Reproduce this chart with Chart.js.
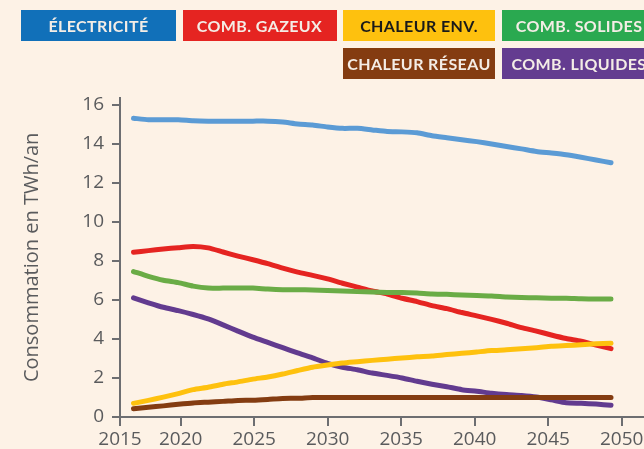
<!DOCTYPE html>
<html lang="fr">
<head>
<meta charset="utf-8">
<title>Consommation d'énergie</title>
<script src="https://cdn.jsdelivr.net/npm/chart.js@4.4.1/dist/chart.umd.min.js"></script>
<style>
  html, body { margin: 0; padding: 0; background: #fdf2e6; overflow: hidden; }
  #wrap { position: relative; width: 644px; height: 449px; }
  #legend {
    position: absolute; left: 21px; top: 10px;
    display: grid;
    grid-template-columns: 155px 154px 152px 155px;
    column-gap: 6.5px; row-gap: 7px;
  }
  .item {
    height: 31px; display: flex; align-items: center; justify-content: center;
    font: 700 16px Lato, sans-serif; letter-spacing: 0.4px; white-space: nowrap;
  }
</style>
</head>
<body>
<div id="wrap">
  <canvas id="chart" width="644" height="449"></canvas>
  <div id="legend"></div>
</div>
<script>
// données (TWh/an)
const YEARS = [2017, 2018, 2019, 2020, 2021, 2022, 2023, 2024, 2025, 2026, 2027,
               2028, 2029, 2030, 2031, 2032, 2033, 2034, 2035, 2036, 2037, 2038,
               2039, 2040, 2041, 2042, 2043, 2044, 2045, 2046, 2047, 2048, 2049];

const LABELS = ['ÉLECTRICITÉ', 'COMB. GAZEUX', 'CHALEUR ENV.', 'COMB. SOLIDES', 'CHALEUR RÉSEAU', 'COMB. LIQUIDES'];

const electricite = [15.3, 15.22, 15.22, 15.22, 15.17, 15.15, 15.15, 15.15, 15.15, 15.15, 15.1,
                     15.0, 14.95, 14.85, 14.78, 14.78, 14.7, 14.62, 14.6, 14.55, 14.4, 14.3,
                     14.2, 14.1, 13.98, 13.85, 13.73, 13.6, 13.52, 13.43, 13.3, 13.16, 13.02];
const gazeux = [8.44, 8.52, 8.6, 8.67, 8.73, 8.66, 8.45, 8.24, 8.05, 7.85, 7.62,
                7.42, 7.25, 7.07, 6.85, 6.65, 6.45, 6.3, 6.08, 5.91, 5.7, 5.55,
                5.35, 5.18, 5.0, 4.8, 4.58, 4.4, 4.2, 4.02, 3.88, 3.68, 3.5];
const chaleurEnv = [0.7, 0.85, 1.02, 1.2, 1.4, 1.52, 1.68, 1.8, 1.94, 2.05, 2.2,
                    2.38, 2.55, 2.66, 2.76, 2.83, 2.9, 2.96, 3.02, 3.08, 3.12, 3.2,
                    3.26, 3.33, 3.4, 3.44, 3.5, 3.55, 3.62, 3.66, 3.7, 3.75, 3.78];
const solides = [7.45, 7.2, 7.0, 6.88, 6.7, 6.6, 6.6, 6.6, 6.6, 6.55, 6.52,
                 6.52, 6.5, 6.48, 6.45, 6.42, 6.4, 6.38, 6.38, 6.35, 6.3, 6.28,
                 6.25, 6.22, 6.2, 6.15, 6.12, 6.1, 6.08, 6.08, 6.05, 6.04, 6.04];
const chaleurReseau = [0.42, 0.5, 0.57, 0.65, 0.72, 0.76, 0.8, 0.85, 0.86, 0.9, 0.95,
                       0.96, 1.0, 1.0, 1.0, 1.0, 1.0, 1.0, 1.0, 1.0, 1.0, 1.0,
                       1.0, 1.0, 1.0, 1.0, 1.0, 1.0, 1.0, 1.0, 1.0, 1.0, 1.0];
const liquides = [6.1, 5.85, 5.62, 5.45, 5.25, 5.02, 4.72, 4.4, 4.09, 3.82, 3.55,
                  3.28, 3.03, 2.75, 2.55, 2.42, 2.25, 2.13, 2.0, 1.83, 1.68, 1.55,
                  1.4, 1.32, 1.22, 1.15, 1.1, 1.02, 0.88, 0.73, 0.7, 0.66, 0.6];

const SERIES = [electricite, gazeux, chaleurEnv, solides, chaleurReseau, liquides];

const TICK_YEARS = [2015, 2020, 2025, 2030, 2035, 2040, 2045, 2050];
const Y_TICKS = [0, 2, 4, 6, 8, 10, 12, 14, 16];

// couleurs
const LINE_COLORS = ['#5b9bd5', '#e52421', '#fec10e', '#6aac46', '#843c11', '#623b8f'];
const LEGEND_COLORS = ['#1170b9', '#e52421', '#fec10e', '#2aa950', '#843c11', '#643c90'];
const LEGEND_TEXT = ['#f4ede6', '#f4ede6', '#1a1a1a', '#f4ede6', '#f4ede6', '#f4ede6'];
const DRAW_ORDER = [0, 3, 1, 2, 4, 5];

const AXIS_COLOR = '#6d6e71';
const TEXT_COLOR = '#5a5b5d';

// le "2015" de l'original est posé sur l'axe vertical, d'où cette origine
const X_ORIGIN = 2015.87;

const datasets = SERIES.map((vals, i) => ({
    label: LABELS[i],
    data: YEARS.map((yr, k) => ({ x: yr, y: vals[k] })),
    xAxisID: 'xd',
    borderColor: LINE_COLORS[i],
    backgroundColor: LINE_COLORS[i],
    borderWidth: 5,
    borderCapStyle: 'round',
    borderJoinStyle: 'round',
    pointRadius: 0,
    tension: 0.2,
    order: DRAW_ORDER[i]
}));

const chart = new Chart(document.getElementById('chart'), {
    type: 'line',
    data: { datasets: datasets },
    options: {
        responsive: false,
        animation: false,
        layout: { padding: { top: 97.7, left: 0, right: 0, bottom: 0 } },
        plugins: {
            legend: { display: false },
            tooltip: { enabled: false }
        },
        scales: {
            xd: {
                type: 'linear',
                display: false,
                min: 2016.095,
                max: 2051.21
            },
            x: {
                type: 'linear',
                position: 'bottom',
                min: X_ORIGIN,
                max: 2051.52,
                afterBuildTicks: axis => {
                    axis.ticks = TICK_YEARS.map((yr, i) => ({ value: i === 0 ? X_ORIGIN : yr }));
                },
                afterFit: scale => {
                    scale.height = 32;
                    scale.paddingLeft = 0;
                    scale.paddingRight = 0;
                },
                ticks: {
                    autoSkip: false,
                    maxRotation: 0,
                    padding: 2,
                    color: TEXT_COLOR,
                    font: { family: 'Open Sans', size: 19 },
                    callback: (v, i) => String(TICK_YEARS[i])
                },
                grid: { drawOnChartArea: false, tickLength: 9, lineWidth: 2, color: AXIS_COLOR },
                border: { color: AXIS_COLOR, width: 2 }
            },
            y: {
                min: 0,
                max: 16.35,
                afterBuildTicks: axis => {
                    axis.ticks = Y_TICKS.map(v => ({ value: v }));
                },
                afterFit: scale => {
                    scale.width = 120;
                    scale.paddingTop = 0;
                    scale.paddingBottom = 0;
                },
                ticks: {
                    padding: 8,
                    color: TEXT_COLOR,
                    font: { family: 'Open Sans', size: 19 }
                },
                title: {
                    display: true,
                    text: 'Consommation en TWh/an',
                    color: TEXT_COLOR,
                    font: { family: 'Open Sans', size: 20 },
                    padding: { top: 20, bottom: 0 }
                },
                grid: { drawOnChartArea: false, tickLength: 8, lineWidth: 2, color: AXIS_COLOR },
                border: { color: AXIS_COLOR, width: 2 }
            }
        }
    }
});

// légende HTML
function buildLegend(chart) {
    const box = document.getElementById('legend');
    chart.data.datasets.forEach((ds, i) => {
        const el = document.createElement('div');
        el.className = 'item';
        el.textContent = ds.label;
        el.style.background = LEGEND_COLORS[i];
        el.style.color = LEGEND_TEXT[i];
        if (i === 4) el.style.gridColumn = '3';
        box.appendChild(el);
    });
}
buildLegend(chart);
</script>
</body>
</html>
